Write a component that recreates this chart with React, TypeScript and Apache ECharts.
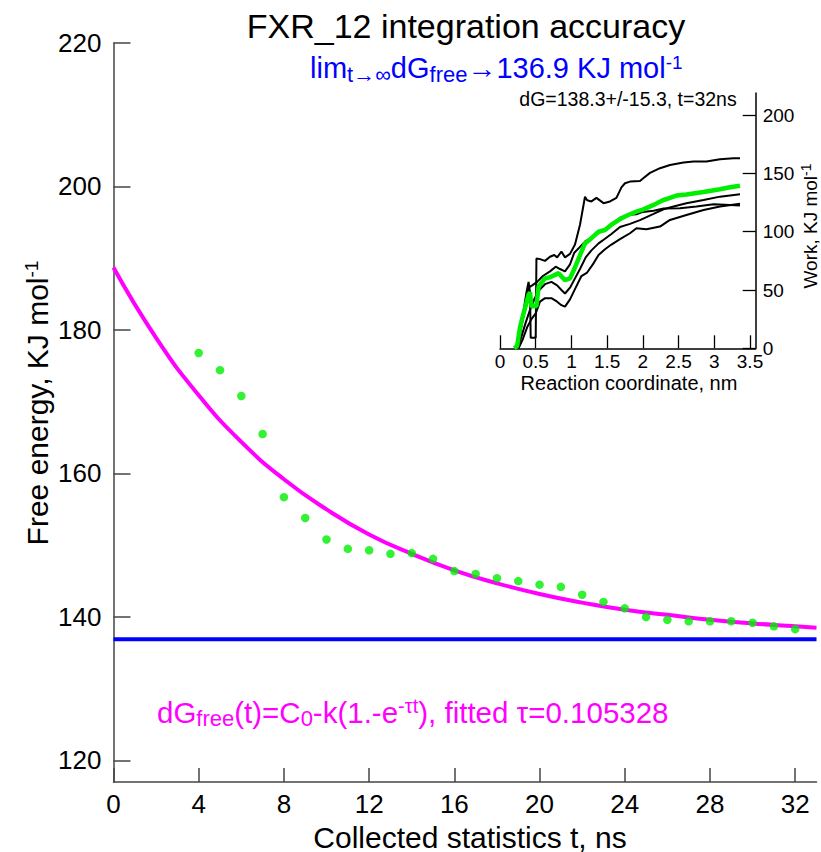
import React, { useEffect, useRef } from 'react';
import * as echarts from 'echarts';

// ---- main panel data ----
const timeNs = [4, 5, 6, 7, 8, 9, 10, 11, 12, 13, 14, 15, 16, 17, 18, 19, 20, 21, 22, 23, 24, 25, 26, 27, 28, 29, 30, 31, 32];
const freeEnergy = [176.8, 174.4, 170.8, 165.5, 156.7, 153.8, 150.8, 149.5, 149.3, 148.8, 148.9, 148.1, 146.4, 146.0, 145.4, 145.0, 144.5, 144.2, 143.1, 142.1, 141.2, 140.0, 139.6, 139.4, 139.4, 139.4, 139.2, 138.7, 138.3];
const fitTime = [0, 2, 4, 6, 8, 10, 12, 14, 16, 18, 20, 22, 24, 26, 28, 30, 32, 33];
const fitValue = [188.7, 178.9, 170.9, 164.4, 159.2, 155.0, 151.5, 148.8, 146.5, 144.7, 143.2, 142.0, 141.0, 140.3, 139.6, 139.1, 138.7, 138.5];
const limitTime = [0, 33];
const limitValue = [136.9, 136.9];
const xTicks = [0, 4, 8, 12, 16, 20, 24, 28, 32];
const yTicks = [120, 140, 160, 180, 200, 220];

// ---- inset data (reaction coordinate nm, work KJ/mol) ----
const workTop: number[][] = [[0.22, 0], [0.28, 14], [0.33, 32], [0.37, 48], [0.40, 57], [0.42, 48], [0.43, 9], [0.50, 9], [0.51, 77], [0.56, 76.5], [0.63, 75], [0.70, 78.5], [0.76, 80], [0.80, 78], [0.86, 83], [0.91, 78], [0.98, 81], [1.05, 89], [1.12, 106], [1.19, 130], [1.22, 127], [1.28, 126], [1.35, 129], [1.45, 124.5], [1.54, 126], [1.63, 129], [1.70, 138], [1.75, 141.6], [1.82, 143], [1.96, 143.5], [2.01, 146], [2.10, 150.5], [2.24, 154.5], [2.38, 157.3], [2.57, 159.3], [2.71, 160.2], [2.89, 160.2], [3.08, 162.2], [3.27, 163.1], [3.36, 163.1]];
const workMid: number[][] = [[0.22, 0], [0.28, 12], [0.33, 28], [0.37, 42], [0.40, 52], [0.45, 54], [0.52, 57], [0.60, 62], [0.70, 66], [0.78, 70], [0.84, 68], [0.91, 66], [0.98, 72], [1.04, 82], [1.12, 87], [1.20, 92], [1.28, 95], [1.38, 99], [1.47, 102], [1.56, 106], [1.68, 112], [1.82, 114.5], [1.91, 115], [2.0, 117], [2.15, 118], [2.29, 120], [2.52, 120.2], [2.75, 121.6], [2.99, 123.6], [3.22, 123], [3.36, 122.4]];
const workLow: number[][] = [[0.24, 0], [0.30, 10], [0.36, 22], [0.42, 33], [0.48, 42], [0.55, 50], [0.63, 55], [0.72, 57], [0.80, 54], [0.86, 50], [0.91, 47], [0.98, 52], [1.05, 60], [1.12, 68], [1.20, 78], [1.28, 84], [1.38, 90], [1.47, 94], [1.56, 98], [1.68, 104], [1.82, 106.7], [1.96, 110], [2.15, 115.3], [2.29, 119.3], [2.43, 121.6], [2.61, 124.5], [2.85, 127.3], [3.08, 130.1], [3.36, 132.2]];
const workBottom: number[][] = [[0.26, 0], [0.32, 8], [0.38, 18], [0.44, 25], [0.50, 30], [0.56, 40], [0.63, 43], [0.72, 43], [0.80, 40], [0.86, 37], [0.91, 35.7], [0.98, 42], [1.06, 52], [1.14, 62], [1.22, 65], [1.30, 72], [1.38, 80], [1.47, 85], [1.56, 89], [1.68, 93.6], [1.82, 98.7], [1.91, 103], [2.05, 102.1], [2.24, 104.4], [2.38, 110.1], [2.61, 114.4], [2.85, 118.7], [3.08, 121.6], [3.36, 124]];
const workMean: number[][] = [[0.20, 0], [0.24, 2], [0.28, 18], [0.33, 30], [0.37, 39], [0.40, 46], [0.42, 48], [0.44, 36], [0.51, 36], [0.54, 53], [0.63, 60], [0.70, 61], [0.77, 63], [0.82, 64.5], [0.87, 61], [0.91, 58.5], [0.98, 60], [1.04, 68], [1.10, 77], [1.19, 90], [1.28, 94.5], [1.38, 100], [1.47, 101.5], [1.56, 106], [1.66, 110], [1.75, 113], [1.82, 115], [1.91, 117.3], [2.00, 119], [2.15, 123], [2.28, 127], [2.38, 129], [2.47, 131], [2.61, 132], [2.85, 134], [3.08, 136.5], [3.20, 138], [3.36, 139.5]];
const insetXTicks = [0, 0.5, 1, 1.5, 2, 2.5, 3, 3.5];
const insetYTicks = [0, 50, 100, 150, 200];

const FONT = '"Liberation Sans", Arial, sans-serif';

function txt(x: number, y: number, text: string, size: number, fill: string, align: string, extra: any = {}, rich?: any) {
  const style: any = {
    text, fontSize: size, fontFamily: FONT, fill,
    align, verticalAlign: 'middle', textAlign: align, textVerticalAlign: 'middle',
  };
  if (rich) style.rich = rich;
  return { type: 'text', x, y, z: 100, silent: true, style, ...extra };
}

function richSet(size: number, subSize: number, supSize: number, fill: string, subPad: number, supPad: number) {
  return {
    m: { fontSize: size, fontFamily: FONT, fill },
    s: { fontSize: subSize, fontFamily: FONT, fill, padding: [subPad, 0, 0, 0] },
    p: { fontSize: supSize, fontFamily: FONT, fill, padding: [0, 0, supPad, 0] },
  };
}

export default function App() {
  const ref = useRef<HTMLDivElement>(null);
  useEffect(() => {
    if (!ref.current) return;
    const chart = echarts.init(ref.current, null, { renderer: 'svg' });
    const axisCol = '#444';
    const blackLine = (data: number[][]) => ({
      type: 'line', xAxisIndex: 1, yAxisIndex: 1, data, showSymbol: false, symbol: 'none',
      lineStyle: { color: '#000', width: 2 }, z: 3,
    });
    chart.setOption({
      animation: false,
      backgroundColor: '#fff',
      grid: [
        { left: 113.5, top: 43, width: 703, height: 739, outerBoundsMode: 'none', containLabel: false },
        { left: 500, top: 93, width: 255.7, height: 255.3, outerBoundsMode: 'none', containLabel: false },
      ],
      xAxis: [
        {
          type: 'value', gridIndex: 0, min: 0, max: 33,
          axisLine: { show: true, onZero: false, lineStyle: { color: axisCol, width: 1.5 } },
          axisTick: { show: true, inside: true, length: 14, customValues: xTicks, lineStyle: { color: axisCol, width: 1.5 } },
          axisLabel: { customValues: xTicks, fontSize: 26, color: '#000', fontFamily: FONT, margin: 9 },
          splitLine: { show: false },
        },
        {
          type: 'value', gridIndex: 1, min: 0, max: 3.58,
          axisLine: { show: true, onZero: false, lineStyle: { color: '#000', width: 1.5 } },
          axisTick: { show: true, inside: true, length: 13, customValues: insetXTicks, lineStyle: { color: '#000', width: 1.3 } },
          axisLabel: { customValues: insetXTicks, fontSize: 19, color: '#000', fontFamily: FONT, margin: 4 },
          splitLine: { show: false },
        },
      ],
      yAxis: [
        {
          type: 'value', gridIndex: 0, min: 117, max: 220,
          axisLine: { show: true, onZero: false, lineStyle: { color: axisCol, width: 1.5 } },
          axisTick: { show: true, inside: true, length: 17, customValues: yTicks, lineStyle: { color: axisCol, width: 1.5 } },
          axisLabel: { customValues: yTicks, fontSize: 26, color: '#000', fontFamily: FONT, margin: 12 },
          splitLine: { show: false },
        },
        {
          type: 'value', gridIndex: 1, position: 'right', min: 0, max: 219,
          axisLine: { show: true, onZero: false, lineStyle: { color: '#000', width: 1.5 } },
          axisTick: { show: true, inside: true, length: 13, customValues: insetYTicks, lineStyle: { color: '#000', width: 1.3 } },
          axisLabel: { customValues: insetYTicks, fontSize: 19, color: '#000', fontFamily: FONT, margin: 7 },
          splitLine: { show: false },
        },
      ],
      series: [
        {
          type: 'line', xAxisIndex: 0, yAxisIndex: 0,
          data: limitTime.map((t, i) => [t, limitValue[i]]),
          showSymbol: false, symbol: 'none', lineStyle: { color: '#0000ff', width: 4 }, z: 2,
        },
        {
          type: 'line', xAxisIndex: 0, yAxisIndex: 0, smooth: true,
          data: fitTime.map((t, i) => [t, fitValue[i]]),
          showSymbol: false, symbol: 'none', lineStyle: { color: '#ff00ff', width: 4 }, z: 3,
        },
        {
          type: 'scatter', xAxisIndex: 0, yAxisIndex: 0,
          data: timeNs.map((t, i) => [t, freeEnergy[i]]),
          symbol: 'circle', symbolSize: 8.5, itemStyle: { color: '#00ee00' }, z: 4,
        },
        blackLine(workTop),
        blackLine(workMid),
        blackLine(workLow),
        blackLine(workBottom),
        {
          type: 'line', xAxisIndex: 1, yAxisIndex: 1, data: workMean, showSymbol: false, symbol: 'none',
          lineStyle: { color: '#00ee00', width: 4.5 }, z: 4,
        },
      ],
      graphic: [
        txt(466, 26, 'FXR_12 integration accuracy', 34, '#000', 'center'),
        txt(310, 68, '{m|lim}{s|t→∞}{m|dG}{s|free}{m|→136.9 KJ mol}{p|-1}', 29, '#0000ff', 'left', {},
          richSet(29, 22, 19, '#0000ff', 13, 12)),
        txt(157, 712, '{m|dG}{s|free}{m|(t)=C}{s|0}{m|-k(1.-e}{p|-τt}{m|), fitted τ=0.105328}', 29.5, '#ff00ff', 'left', {},
          richSet(29.5, 22, 20, '#ff00ff', 13, 13)),
        txt(37.6, 403, '{m|Free energy, KJ mol}{p|-1}', 30, '#000', 'center', { rotation: Math.PI / 2 },
          richSet(30, 20, 19, '#000', 13, 13)),
        txt(470, 837, 'Collected statistics t, ns', 30, '#000', 'center'),
        txt(628, 99, 'dG=138.3+/-15.3, t=32ns', 19.5, '#000', 'center'),
        txt(629, 383, 'Reaction coordinate, nm', 20, '#000', 'center'),
        txt(810, 226, '{m|Work, KJ mol}{p|-1}', 19, '#000', 'center', { rotation: Math.PI / 2 },
          richSet(19, 13, 14, '#000', 8, 9)),
      ],
    });
    return () => chart.dispose();
  }, []);
  return <div ref={ref} style={{ width: 821, height: 852, position: 'absolute', left: 0, top: 0 }} />;
}
